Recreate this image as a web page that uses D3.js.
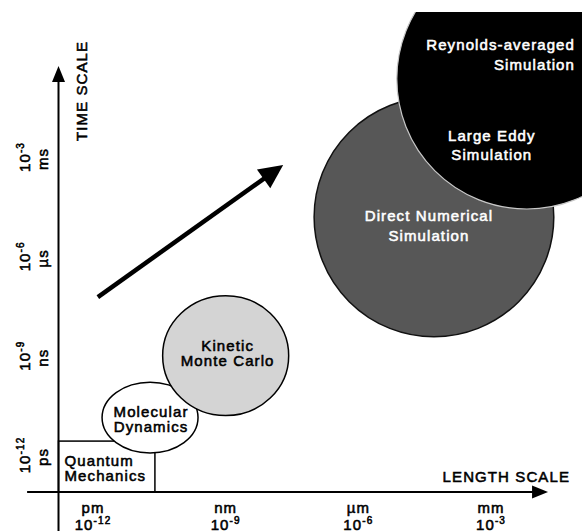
<!DOCTYPE html>
<html>
<head>
<meta charset="utf-8">
<script src="https://cdn.jsdelivr.net/npm/d3@7"></script>
<style>
  html, body { margin: 0; padding: 0; background: #fff; }
  svg { display: block; font-family: "Liberation Sans", Arial, sans-serif; }
  svg text { stroke-width: 0.55px; paint-order: fill; }
</style>
</head>
<body>
<script>
// ---------- data (log10 of length in m, log10 of time in s) ----------
const xTickUnits = ["pm", "nm", "\u00b5m", "mm"];
const xTickExps  = [-12, -9, -6, -3];
const yTickUnits = ["ps", "ns", "\u00b5s", "ms"];
const yTickExps  = [-12, -9, -6, -3];

// method regions drawn as ellipses (centre and half-extent in decades)
const regionNames = ["Molecular Dynamics", "Kinetic Monte Carlo", "Direct Numerical Simulation", "Large Eddy Simulation"];
const regionLength = [-10.71, -9.0, -4.29, -2.19];
const regionTime   = [-10.87, -9.0, -4.81, -0.64];
const regionRx     = [1.085, 1.425, 2.71, 2.94];
const regionRy     = [1.07, 1.81, 3.62, 3.93];

// quantum mechanics box: [length min, length max], [time min, time max]
const qmLength = [-12.78, -10.6];
const qmTime   = [-13.12, -11.58];

// axes extents
const axisOriginLength = -12.78;
const axisOriginTime   = -13.12;
const axisLengthExtent = [-13.49, -1.71];
const axisTimeExtent   = [-14.30, -0.25];

// trend arrow
const trendFrom = [-11.89, -7.23];
const trendTo   = [-7.70, -3.24];

// ---------- scales ----------
const W = 582, H = 531;
const x = d3.scaleLinear().domain([-12, -3]).range([93, 491]);
const y = d3.scaleLinear().domain([-12, -3]).range([455, 157]);
const kx = Math.abs(x(1) - x(0)), ky = Math.abs(y(1) - y(0));

const svg = d3.select("body").append("svg").attr("width", W).attr("height", H);
svg.append("defs").append("clipPath").attr("id", "clip")
  .append("rect").attr("x", 0).attr("y", 12).attr("width", W).attr("height", H - 12);

const plot = svg.append("g").attr("clip-path", "url(#clip)");
const LS = "1.1px";
const FS = 15;

// QM box
plot.append("rect")
  .attr("x", x(qmLength[0])).attr("y", y(qmTime[1]))
  .attr("width", x(qmLength[1]) - x(qmLength[0]))
  .attr("height", y(qmTime[0]) - y(qmTime[1]))
  .attr("fill", "#fff").attr("stroke", "#000").attr("stroke-width", 1.5);

const fills   = ["#ffffff", "#d4d4d4", "#575757", "#000000"];
const strokes = ["#000", "#000", "#111", "#c8c8c8"];
const regions = regionNames.map((n, i) => ({
  name: n, cx: regionLength[i], cy: regionTime[i], rx: regionRx[i], ry: regionRy[i],
  fill: fills[i], stroke: strokes[i]
}));

plot.selectAll("ellipse.region").data(regions).join("ellipse")
  .attr("class", "region")
  .attr("cx", d => x(d.cx)).attr("cy", d => y(d.cy))
  .attr("rx", d => d.rx * kx).attr("ry", d => d.ry * ky)
  .attr("fill", d => d.fill).attr("stroke", d => d.stroke)
  .attr("stroke-width", (d, i) => i === 3 ? 1.2 : 1.5);

// ---------- labels ----------
function multiLine(px, py, lines, lh, anchor, color) {
  const t = plot.append("text")
    .attr("x", px).attr("y", py)
    .attr("text-anchor", anchor)
    .attr("fill", color).attr("stroke", color)
    .attr("font-size", FS)
    .attr("letter-spacing", LS);
  lines.forEach((l, i) => {
    t.append("tspan").attr("x", px).attr("y", py + i * lh).text(l);
  });
}
const rp = regions.map(d => [x(d.cx), y(d.cy)]);
multiLine(x(qmLength[0]) + 6, y(qmTime[1]) + 25, ["Quantum", "Mechanics"], 15, "start", "#000");
multiLine(rp[0][0] + 1, rp[0][1] - 0.5, ["Molecular", "Dynamics"], 15, "middle", "#000");
multiLine(rp[1][0] + 2, rp[1][1] - 5, ["Kinetic", "Monte Carlo"], 15, "middle", "#000");
multiLine(rp[2][0] - 5, rp[2][1] + 4, ["Direct Numerical", "Simulation"], 20, "middle", "#fff");
multiLine(rp[3][0] - 35, rp[3][1] + 62, ["Large Eddy", "Simulation"], 19, "middle", "#fff");
multiLine(575, 50, ["Reynolds-averaged", "Simulation"], 20, "end", "#fff");

// ---------- trend arrow ----------
function head(tip, from, len, hw) {
  const dx = tip[0] - from[0], dy = tip[1] - from[1];
  const L = Math.hypot(dx, dy), ux = dx / L, uy = dy / L;
  const bx = tip[0] - ux * len, by = tip[1] - uy * len;
  return [[tip[0], tip[1]], [bx - uy * hw, by + ux * hw], [bx + uy * hw, by - ux * hw]];
}
const a0 = [x(trendFrom[0]), y(trendFrom[1])];
const a1 = [x(trendTo[0]), y(trendTo[1])];
{
  const L = Math.hypot(a1[0] - a0[0], a1[1] - a0[1]);
  const ux = (a1[0] - a0[0]) / L, uy = (a1[1] - a0[1]) / L;
  svg.append("line").attr("x1", a0[0]).attr("y1", a0[1])
    .attr("x2", a1[0] - ux * 18).attr("y2", a1[1] - uy * 18)
    .attr("stroke", "#000").attr("stroke-width", 4.5);
  svg.append("polygon").attr("points", head(a1, a0, 24, 11.5).map(p => p.join(",")).join(" "))
    .attr("fill", "#000");
}

// ---------- axes ----------
const ox = x(axisOriginLength), oy = y(axisOriginTime);
svg.append("line").attr("x1", ox).attr("x2", ox)
  .attr("y1", y(axisTimeExtent[0])).attr("y2", y(axisTimeExtent[1]) + 14)
  .attr("stroke", "#000").attr("stroke-width", 2);
svg.append("polygon")
  .attr("points", head([ox, y(axisTimeExtent[1])], [ox, oy], 16, 6.5).map(p => p.join(",")).join(" "))
  .attr("fill", "#000");
svg.append("line").attr("y1", oy).attr("y2", oy)
  .attr("x1", x(axisLengthExtent[0])).attr("x2", x(axisLengthExtent[1]) - 14)
  .attr("stroke", "#000").attr("stroke-width", 2);
svg.append("polygon")
  .attr("points", head([x(axisLengthExtent[1]), oy], [ox, oy], 16, 6.5).map(p => p.join(",")).join(" "))
  .attr("fill", "#000");

const txt = sel => sel.attr("font-size", FS).attr("letter-spacing", LS)
  .attr("fill", "#000").attr("stroke", "#000");

// axis titles
svg.append("text").attr("transform", "translate(87,91) rotate(-90)")
  .attr("text-anchor", "middle").call(txt)
  .text("TIME SCALE");
svg.append("text").attr("x", 570).attr("y", 482)
  .attr("text-anchor", "end").call(txt)
  .text("LENGTH SCALE");

// x tick labels
const xt = svg.selectAll("g.xt").data(xTickExps.map((e, i) => ({ e, u: xTickUnits[i] })))
  .join("g").attr("class", "xt").attr("transform", d => `translate(${x(d.e)},0)`);
xt.append("text").attr("y", 513).attr("text-anchor", "middle").call(txt).text(d => d.u);
const xe = xt.append("text").attr("y", 530).attr("text-anchor", "middle").call(txt);
xe.append("tspan").text("10");
xe.append("tspan").attr("font-size", 10).attr("dy", -6).text(d => d.e);

// y tick labels
const yt = svg.selectAll("g.yt").data(yTickExps.map((e, i) => ({ e, u: yTickUnits[i] })))
  .join("g").attr("class", "yt");
const ye = yt.append("text")
  .attr("transform", d => `translate(30,${y(d.e)}) rotate(-90)`)
  .attr("text-anchor", "middle").call(txt);
ye.append("tspan").text("10");
ye.append("tspan").attr("font-size", 10).attr("dy", -6).text(d => d.e);
yt.append("text")
  .attr("transform", d => `translate(48,${y(d.e) + 2}) rotate(-90)`)
  .attr("text-anchor", "middle").call(txt)
  .text(d => d.u);
</script>
</body>
</html>
